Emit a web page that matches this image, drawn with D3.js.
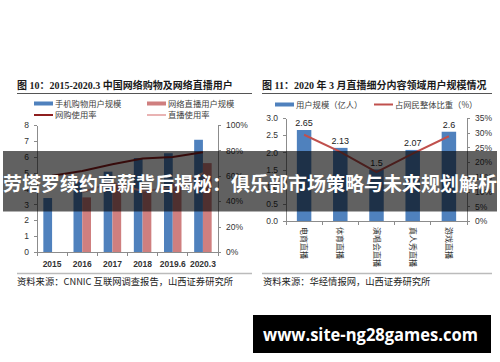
<!DOCTYPE html>
<html lang="zh">
<head>
    <meta charset="UTF-8">
    <title>网络购物及直播用户</title>
    <script src="https://d3js.org/d3.v7.min.js"></script>
    <style>
        body { margin: 0; background: #fff; }
        svg { display: block; }
        .axis path, .axis line { stroke: #8c8c8c; shape-rendering: crispEdges; }
        .axis text { fill: #333; font-family: "Liberation Sans", "Noto Sans CJK SC", sans-serif; font-size: 8.5px; }
        .title { font-family: "Liberation Serif", "Noto Sans CJK SC", serif; font-size: 10px; font-weight: bold; fill: #1a1a1a; }
        .legend { font-family: "Noto Sans CJK SC", sans-serif; font-size: 8.3px; fill: #404040; }
        .source { font-family: "Noto Sans CJK SC", sans-serif; font-size: 9.3px; fill: #222; }
        .line { fill: none; stroke-width: 2px; }
    </style>
</head>
<body>
<svg id="chart" width="500" height="362"></svg>
<script>
    // Figure 10 data
    var years = ["2015", "2016", "2017", "2018", "2019.6", "2020.3"];
    var mobileShop = [3.40, 4.41, 5.06, 5.92, 6.22, 7.07];
    var liveUsers = [null, 3.44, 4.22, 3.97, 4.33, 5.60];
    var shopRate = [0.600, 0.638, 0.691, 0.736, 0.748, 0.786];
    var liveRate = [null, 0.471, 0.547, 0.479, 0.507, 0.620];
    var leftTicks = [0, 1, 2, 3, 4, 5, 6, 7, 8];
    var rightTicks = [0, 0.2, 0.4, 0.6, 0.8, 1.0];

    // Figure 11 data
    var genres = ["电商直播", "体育直播", "演唱会直播", "真人秀直播", "游戏直播"];
    var genreUsers = [2.65, 2.13, 1.5, 2.07, 2.6];
    var genreShare = [0.293, 0.235, 0.166, 0.229, 0.288];
    var usersTicks = [0, 0.5, 1.0, 1.5, 2.0, 2.5, 3.0];
    var shareTicks = [0, 0.05, 0.10, 0.15, 0.20, 0.25, 0.30, 0.35];

    var blue = "#4f81bd", pink = "#cf7f7f", darkRed = "#8e1f1f", lightPink = "#e9b3b3", red = "#c0504d";

    var svg = d3.select("#chart");

    // ---------- left chart ----------
    var L = {left: 37, right: 218, top: 125, bottom: 252};

    svg.append("text").attr("class", "title").attr("x", 17).attr("y", 89)
        .text("图 10：2015-2020.3 中国网络购物及网络直播用户");
    svg.append("line").attr("x1", 17).attr("x2", 252).attr("y1", 93.5).attr("y2", 93.5)
        .attr("stroke", "#555").attr("stroke-width", 1);

    // legend
    var legL = [
        {t: "手机购物用户规模", c: blue, type: "bar", x: 34, y: 103.5},
        {t: "网络直播用户规模", c: pink, type: "bar", x: 147, y: 103.5},
        {t: "网购使用率", c: darkRed, type: "line", x: 34, y: 115},
        {t: "直播使用率", c: lightPink, type: "line", x: 147, y: 115}
    ];
    legL.forEach(function(d) {
        if (d.type === "bar") {
            svg.append("rect").attr("x", d.x).attr("y", d.y - 2).attr("width", 19).attr("height", 4).attr("fill", d.c);
        } else {
            svg.append("line").attr("x1", d.x).attr("x2", d.x + 19).attr("y1", d.y).attr("y2", d.y)
                .attr("stroke", d.c).attr("stroke-width", 2);
        }
        svg.append("text").attr("class", "legend").attr("x", d.x + 21).attr("y", d.y + 3).text(d.t);
    });

    var x0 = d3.scaleBand().domain(years).range([L.left, L.right]).paddingInner(0.42).paddingOuter(0.21);
    var x1 = d3.scaleBand().domain(["shop", "live"]).range([0, x0.bandwidth()]);
    var yL = d3.scaleLinear().domain([0, 8]).range([L.bottom, L.top]);
    var yR = d3.scaleLinear().domain([0, 1]).range([L.bottom, L.top]);

    var gL = svg.append("g");

    gL.selectAll(".bshop").data(years).enter().append("rect")
        .attr("x", function(d) { return x0(d) + x1("shop"); })
        .attr("y", function(d, i) { return yL(mobileShop[i]); })
        .attr("width", x1.bandwidth())
        .attr("height", function(d, i) { return yL(0) - yL(mobileShop[i]); })
        .attr("fill", blue);

    gL.selectAll(".blive").data(years.filter(function(d, i) { return liveUsers[i] != null; })).enter().append("rect")
        .attr("x", function(d) { return x0(d) + x1("live"); })
        .attr("y", function(d) { return yL(liveUsers[years.indexOf(d)]); })
        .attr("width", x1.bandwidth())
        .attr("height", function(d) { return yL(0) - yL(liveUsers[years.indexOf(d)]); })
        .attr("fill", pink);

    var lineL = d3.line()
        .defined(function(d) { return d.v != null; })
        .x(function(d) { return x0(d.k) + x0.bandwidth() / 2; })
        .y(function(d) { return yR(d.v); });

    gL.append("path").attr("class", "line").attr("stroke", lightPink)
        .attr("d", lineL(years.map(function(k, i) { return {k: k, v: liveRate[i]}; })));
    gL.append("path").attr("class", "line").attr("stroke", darkRed)
        .attr("d", lineL(years.map(function(k, i) { return {k: k, v: shopRate[i]}; })));

    // axes
    gL.append("g").attr("class", "axis").attr("transform", "translate(" + L.left + ",0)")
        .call(d3.axisLeft(yL).tickValues(leftTicks).tickSize(3).tickSizeOuter(0).tickPadding(5));
    gL.append("g").attr("class", "axis").attr("transform", "translate(" + L.right + ",0)")
        .call(d3.axisRight(yR).tickValues(rightTicks).tickSize(3).tickSizeOuter(0).tickPadding(5)
            .tickFormat(d3.format(".0%")));
    var xa = gL.append("g").attr("class", "axis").attr("transform", "translate(0," + L.bottom + ")")
        .call(d3.axisBottom(x0).tickSize(0).tickSizeOuter(0).tickPadding(9));
    xa.selectAll("text").style("font-size", "8.5px").style("font-weight", "bold").style("fill", "#333");
    var half = (x0.step() - x0.bandwidth()) / 2;
    xa.selectAll(".sep").data(years.concat(["end"])).enter().append("line")
        .attr("x1", function(d, i) { return i < years.length ? x0(d) - half : x0(years[years.length - 1]) + x0.bandwidth() + half; })
        .attr("x2", function(d, i) { return i < years.length ? x0(d) - half : x0(years[years.length - 1]) + x0.bandwidth() + half; })
        .attr("y1", 0).attr("y2", 4);

    svg.append("line").attr("x1", 17).attr("x2", 252).attr("y1", 273.5).attr("y2", 273.5)
        .attr("stroke", "#bbb").attr("stroke-width", 1.5);
    svg.append("text").attr("class", "source").attr("x", 17).attr("y", 285)
        .text("资料来源：CNNIC 互联网调查报告，山西证券研究所");

    // ---------- right chart ----------
    var R = {left: 286, right: 467, top: 118, bottom: 221};

    svg.append("text").attr("class", "title").attr("x", 262).attr("y", 89)
        .text("图 11：2020 年 3 月直播细分内容领域用户规模情况");
    svg.append("line").attr("x1", 262).attr("x2", 492).attr("y1", 93.5).attr("y2", 93.5)
        .attr("stroke", "#555").attr("stroke-width", 1);

    svg.append("rect").attr("x", 275).attr("y", 102.5).attr("width", 19).attr("height", 4).attr("fill", blue);
    svg.append("text").attr("class", "legend").attr("x", 296).attr("y", 107.5).text("用户规模（亿人）");
    svg.append("line").attr("x1", 374).attr("x2", 393).attr("y1", 104.5).attr("y2", 104.5)
        .attr("stroke", red).attr("stroke-width", 2);
    svg.append("text").attr("class", "legend").attr("x", 395).attr("y", 107.5).text("占网民整体比重（%）");

    var xg = d3.scaleBand().domain(genres).range([R.left, R.right]).paddingInner(0.6).paddingOuter(0.3);
    var yU = d3.scaleLinear().domain([0, 3]).range([R.bottom, R.top]);
    var yS = d3.scaleLinear().domain([0, 0.35]).range([R.bottom, R.top]);

    var gR = svg.append("g");
    gR.selectAll(".bg").data(genres).enter().append("rect")
        .attr("x", function(d) { return xg(d); })
        .attr("y", function(d, i) { return yU(genreUsers[i]); })
        .attr("width", xg.bandwidth())
        .attr("height", function(d, i) { return yU(0) - yU(genreUsers[i]); })
        .attr("fill", blue);

    gR.selectAll(".lbl").data(genres).enter().append("text")
        .attr("x", function(d) { return xg(d) + xg.bandwidth() / 2; })
        .attr("y", function(d, i) { return yU(genreUsers[i]) - 4; })
        .attr("text-anchor", "middle")
        .style("font-family", "Liberation Sans, sans-serif").style("font-size", "9px").style("fill", "#222")
        .text(function(d, i) { return genreUsers[i]; });

    var lineR = d3.line()
        .x(function(d) { return xg(d.k) + xg.bandwidth() / 2; })
        .y(function(d) { return yS(d.v); });
    gR.append("path").attr("class", "line").attr("stroke", red)
        .attr("d", lineR(genres.map(function(k, i) { return {k: k, v: genreShare[i]}; })));

    gR.append("g").attr("class", "axis").attr("transform", "translate(" + R.left + ",0)")
        .call(d3.axisLeft(yU).tickValues(usersTicks).tickSize(3).tickSizeOuter(0).tickPadding(5)
            .tickFormat(d3.format(".1f")));
    gR.append("g").attr("class", "axis").attr("transform", "translate(" + R.right + ",0)")
        .call(d3.axisRight(yS).tickValues(shareTicks).tickSize(3).tickSizeOuter(0).tickPadding(5)
            .tickFormat(d3.format(".0%")));
    var xr = gR.append("g").attr("class", "axis").attr("transform", "translate(0," + R.bottom + ")")
        .call(d3.axisBottom(xg).tickSize(0).tickSizeOuter(0).tickPadding(0));
    xr.selectAll("text")
        .attr("transform", "rotate(90)")
        .attr("x", 6).attr("y", 0).attr("dy", "0.35em")
        .style("text-anchor", "start").style("font-size", "8px").style("fill", "#333");
    var halfR = (xg.step() - xg.bandwidth()) / 2;
    xr.selectAll(".sep").data(genres.concat(["end"])).enter().append("line")
        .attr("x1", function(d, i) { return i < genres.length ? xg(d) - halfR : xg(genres[genres.length - 1]) + xg.bandwidth() + halfR; })
        .attr("x2", function(d, i) { return i < genres.length ? xg(d) - halfR : xg(genres[genres.length - 1]) + xg.bandwidth() + halfR; })
        .attr("y1", 0).attr("y2", 4);

    svg.append("line").attr("x1", 262).attr("x2", 492).attr("y1", 273.5).attr("y2", 273.5)
        .attr("stroke", "#bbb").attr("stroke-width", 1.5);
    svg.append("text").attr("class", "source").attr("x", 263).attr("y", 285)
        .text("资料来源：华经情报网，山西证券研究所");

    // ---------- overlay banner ----------
    svg.append("rect").attr("x", 3).attr("y", 151).attr("width", 494).attr("height", 60.5)
        .attr("fill", "#000").attr("opacity", 0.62);
    svg.append("text").attr("x", 250).attr("y", 190.5).attr("text-anchor", "middle")
        .style("font-family", "Noto Sans CJK SC, sans-serif").style("font-size", "19px").style("font-weight", "bold")
        .style("fill", "#fff")
        .text("劳塔罗续约高薪背后揭秘：俱乐部市场策略与未来规划解析");

    svg.append("rect").attr("x", 253).attr("y", 315).attr("width", 238).attr("height", 38).attr("fill", "#000");
    svg.append("text").attr("x", 263).attr("y", 340.5)
        .attr("textLength", 215).attr("lengthAdjust", "spacingAndGlyphs")
        .style("font-family", "Open Sans, sans-serif").style("font-size", "17px").style("font-weight", "bold")
        .style("fill", "#fff")
        .text("www.site-ng28games.com");
</script>
</body>
</html>
